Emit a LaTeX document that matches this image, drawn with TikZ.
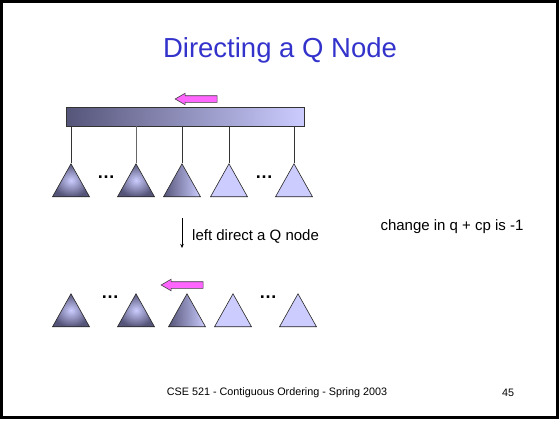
\documentclass[tikz,border=0pt]{standalone}
\usepackage{fontspec}
\setmainfont{Liberation Sans}
\usetikzlibrary{arrows.meta, positioning, shapes.geometric, shapes.arrows}

\definecolor{qdark}{HTML}{55557A}
\definecolor{qlight}{HTML}{CCCCFF}
\definecolor{qpink}{HTML}{FF66FF}
\definecolor{qtitle}{HTML}{3333CC}

\begin{document}
\begin{tikzpicture}[x=1pt,y=-1pt,thin]

	\tikzset{
		tri/.style={
				isosceles triangle, isosceles triangle stretches, shape border rotate=90, draw=black!85, line width=0.6pt, inner sep=0pt, minimum width=37pt, minimum height=33pt
			},
		darktri/.style={
				tri, inner color=qlight, outer color=qdark
			},
		halftri/.style={
				tri, left color=qdark, right color=qlight
			},
		lighttri/.style={
				tri, fill=qlight
			},
		pinkarrow/.style={
				single arrow, shape border rotate=180, draw=black!75, line width=0.6pt, fill=qpink, inner sep=3pt, minimum height=42pt, single arrow head extend=2.5pt, single arrow tip angle=60
			},
		dots/.style={
				font=\fontsize{18}{18}\selectfont\bfseries, inner sep=0pt
			},
		txt/.style={
				font=\fontsize{15}{17}\selectfont, inner sep=0pt
			},
	}
	\useasboundingbox (0,0) rectangle (559,420);
	\draw[line width=3pt] (1.5,1.5) rectangle (557.5,417.5);

	\node[font=\fontsize{27.5}{30}\selectfont, text=qtitle](title) at (280,50){Directing a Q Node};

	\node[draw=black!80, left color=qdark, right color=qlight, minimum width=238pt, minimum height=19pt, inner sep=0pt](bar) at (185,116.5){};
	\node[pinkarrow](pa1) at (199,99){};

	\node[darktri, anchor=apex](t1) at (71,163){};
	\node[darktri, on grid, right=65pt of t1](t2){};
	\node[halftri, on grid, right=46pt of t2](t3){};
	\node[lighttri, on grid, right=47pt of t3](t4){};
	\node[lighttri, on grid, right=65pt of t4](t5){};
	\node[dots](k1) at (106,177){\dots};
	\node[dots](k2) at (264,177){\dots};

	\draw[black!80] (bar.south -| t1.apex) -- (t1.apex);
	\draw[black!60] (bar.south -| t2.apex) -- (t2.apex);
	\draw[black!80] (bar.south -| t3.apex) -- (t3.apex);
	\draw[black!80] (bar.south -| t4.apex) -- (t4.apex);
	\draw[black!80] (bar.south -| t5.apex) -- (t5.apex);

	\coordinate (d1) at (182,218);
	\coordinate (d2) at (182,248);
	\draw[-{Stealth[length=4pt,width=3.5pt]}] (d1) -- (d2);
	\node[txt, anchor=west](step1) at (192,236){left direct a Q node};
	\node[txt](chg) at (452,227){change in q + cp is -1};

	\node[darktri, on grid, below=130pt of t1](b1){};
	\node[darktri, on grid, right=65pt of b1](b2){};
	\node[halftri, on grid, right=51pt of b2](b3){};
	\node[lighttri, on grid, right=46pt of b3](b4){};
	\node[lighttri, on grid, right=65pt of b4](b5){};
	\node[dots](k3) at (110,297){\dots};
	\node[dots](k4) at (268,297){\dots};
	\node[pinkarrow](pa2) at (185,285){};

	\node[font=\fontsize{10.8}{12}\selectfont](foot) at (277,393){CSE 521 - Contiguous Ordering - Spring 2003};
	\node[font=\fontsize{10.8}{12}\selectfont](page) at (508,393){45};

\end{tikzpicture}
\end{document}
